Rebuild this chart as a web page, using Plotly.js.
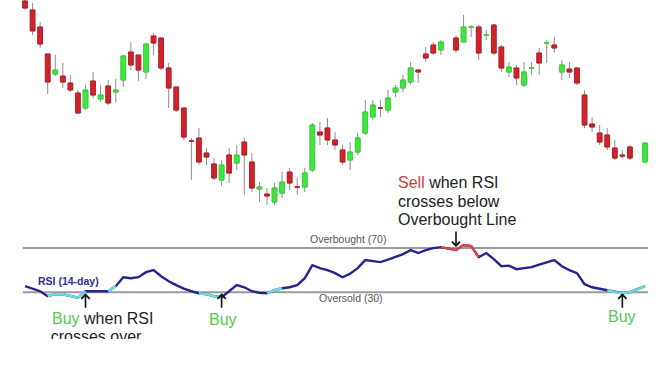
<!DOCTYPE html>
<html><head><meta charset="utf-8">
<script src="https://cdn.plot.ly/plotly-3.0.1.min.js"></script>
<style>html,body{margin:0;padding:0;background:#fff;overflow:hidden}#chart{width:660px;height:372px}</style>
</head><body><div id="chart"></div>
<script>
// ---- data ----
const day = [0,1,2,3,4,5,6,7,8,9,10,11,12,13,14,15,16,17,18,19,20,21,22,23,24,25,26,27,28,29,30,31,32,33,34,35,36,37,38,39,40,41,42,43,44,45,46,47,48,49,50,51,52,53,54,55,57,58,59,60,61,62,63,64,65,66,67,68,69,70,71,72,73,74,75,76,77,78,79,80,82];
const openP  = [219,210,193,166,146,144,137,127,112,139,121,134,128,140,168,165,148,184,182,152,133,112,79,82,67,56,40,65,57,78,58,31,26,18,27,48,33,33,50,88,92,80,70,60,68,87,103,112,110,128,132,138,150,166,175,170,182,178,193,193,185,195,173,148,152,135,152,167,177,175,148,151,152,125,96,87,85,72,65,73,58];
const highP  = [225,217,198,166,165,157,145,130,135,148,135,140,141,165,178,165,176,187,182,157,133,112,82,92,72,62,60,72,75,82,67,38,32,37,48,52,42,52,97,98,102,88,75,78,87,120,120,120,130,135,145,158,150,173,178,180,185,205,195,195,190,196,175,158,155,158,158,172,180,183,160,158,153,130,103,95,92,80,70,75,77];
const lowP   = [210,185,172,126,144,132,128,106,110,122,118,115,118,133,150,139,141,165,150,112,108,80,40,55,55,40,34,37,50,25,28,18,15,15,22,30,25,28,48,75,75,70,55,50,65,85,100,103,107,123,128,135,137,158,165,165,167,178,183,160,180,165,148,143,135,133,145,145,157,167,140,142,135,92,88,75,70,60,62,60,58];
const closeP = [212,189,176,138,150,138,130,107,130,125,125,117,130,164,155,150,176,177,152,132,110,83,79,58,63,42,55,47,65,65,32,33,24,32,38,37,33,47,95,85,80,75,58,68,82,108,115,112,122,132,140,152,148,162,167,178,170,193,193,167,185,167,152,153,142,148,152,157,177,172,155,148,137,95,93,78,73,62,64,62,77];

const rsi = [35.5,33.3,30.9,26.4,28.2,28.2,26.4,25.0,30.9,30.9,
             30.5,30.9,35.5,43.6,42.7,43.6,48.2,50.0,44.5,40.0,
             36.4,33.2,30.9,29.1,28.2,26.4,25.5,30.9,36.4,34.5,
             30.9,29.5,29.1,31.8,33.6,34.5,36.4,42.7,54.5,51.8,
             50.0,47.3,43.6,46.8,51.8,59.1,58.2,57.3,59.5,61.8,
             64.5,68.2,65.5,68.2,70.0,70.9,69.5,68.2,72.7,71.8,
             61.8,65.5,60.0,53.6,54.1,50.9,51.8,52.7,55.0,57.3,
             59.1,53.6,50.0,47.3,37.3,34.5,33.2,31.8,30.0,29.1,
             30.0,32.7,35.5];
const buyZones = [[3,8],[11,12],[23,26],[32,34],[77,82]];
const sellZones = [[55,60]];
const buyDays = [8,26,79];
const sellDays = [57];
const levels = [70,30];
const levelNames = ['Overbought (70)','Oversold (30)'];

// ---- build ----
const FONT = 'Arial, "Liberation Sans", sans-serif';
const rsiDay = rsi.map((v,i)=>i);
function zoneTrace(zones){
  const xs=[], ys=[];
  zones.forEach(z=>{ for(let i=z[0];i<=z[1];i++){xs.push(rsiDay[i]); ys.push(rsi[i]);} xs.push(null); ys.push(null); });
  return {xs, ys};
}
const bodyHigh = openP.map((o,i)=>Math.max(o,closeP[i]));
const bodyLow  = openP.map((o,i)=>Math.min(o,closeP[i]));
const cz = zoneTrace(buyZones), sz = zoneTrace(sellZones);

const traces = [
  {type:'candlestick', x:day, open:openP, high:highP, low:lowP, close:closeP,
   increasing:{line:{color:'#8c8c8c',width:1},fillcolor:'rgba(0,0,0,0)'},
   decreasing:{line:{color:'#8c8c8c',width:1},fillcolor:'rgba(0,0,0,0)'},
   whiskerwidth:0, hoverinfo:'skip'},
  {type:'candlestick', x:day, open:openP, high:bodyHigh, low:bodyLow, close:closeP,
   increasing:{line:{color:'#35d835',width:1},fillcolor:'#3fe63f'},
   decreasing:{line:{color:'#bd1c24',width:1},fillcolor:'#cf242c'},
   whiskerwidth:0, hoverinfo:'skip'},
  {type:'scatter', mode:'lines', x:rsiDay, y:rsi, xaxis:'x', yaxis:'y2',
   line:{color:'#24248c',width:2.4}, hoverinfo:'skip'},
  {type:'scatter', mode:'lines', x:cz.xs, y:cz.ys, xaxis:'x', yaxis:'y2',
   line:{color:'#6cdde3',width:2.4}, connectgaps:false, hoverinfo:'skip'},
  {type:'scatter', mode:'lines', x:sz.xs, y:sz.ys, xaxis:'x', yaxis:'y2',
   line:{color:'#e04646',width:2.4}, connectgaps:false, hoverinfo:'skip'},
  {type:'scatter', mode:'text', x:[3.4], y:[-11.6], text:['crosses over'], textposition:'middle right',
   textfont:{family:FONT,size:16,color:'#222'}, xaxis:'x', yaxis:'y2', cliponaxis:true, hoverinfo:'skip'}
];

function pa(px,py){return {x:px/660, y:1-py/372};}
function label(text,px,py,opts){
  const p=pa(px,py);
  return Object.assign({xref:'paper',yref:'paper',x:p.x,y:p.y,text:text,showarrow:false,
    xanchor:'left',yanchor:'middle',font:{family:FONT,size:16,color:'#222'}},opts||{});
}
const GREEN='#55c855', RED='#d9363e';
const annotations = [
  label('<span style="color:'+RED+'">Sell</span> when RSI',396,182),
  label('crosses below',396,201),
  label('Overbought Line',396,219),
  label('<span style="color:'+GREEN+'">Buy</span> when RSI',50,318),
  label('Buy',223,319,{xanchor:'center',font:{family:FONT,size:16,color:GREEN}}),
  label('Buy',622,316,{xanchor:'center',font:{family:FONT,size:16,color:GREEN}}),
  label(levelNames[0],348,239,{xanchor:'center',font:{family:FONT,size:10.5,color:'#555'}}),
  label(levelNames[1],351,298,{xanchor:'center',font:{family:FONT,size:10.5,color:'#555'}}),
  label('<b>RSI (14-day)</b>',36,281,{font:{family:FONT,size:10.5,color:'#2e2e8e'}})
];
buyDays.forEach(d=>annotations.push({xref:'x',yref:'y2',x:d,y:levels[1]-1,text:'',showarrow:true,
  ax:0,ay:16,arrowhead:4,arrowsize:1,arrowwidth:1.6,arrowcolor:'#111',standoff:0}));
sellDays.forEach(d=>annotations.push({xref:'x',yref:'y2',x:d,y:levels[0]+1,text:'',showarrow:true,
  ax:0,ay:-17,arrowhead:4,arrowsize:1,arrowwidth:1.6,arrowcolor:'#111',standoff:0}));

const shapes = levels.map(l=>({type:'line',xref:'x',yref:'y2',x0:-0.3,x1:82.4,y0:l,y1:l,
  line:{color:'#9a9a9a',width:2},layer:'below'}));

const layout = {
  width:660, height:372, margin:{l:0,r:0,t:0,b:0},
  paper_bgcolor:'#fff', plot_bgcolor:'#fff', showlegend:false,
  boxgap:0.12, boxmode:'overlay',
  xaxis:{range:[-3.31,83.98], visible:false, rangeslider:{visible:false}, fixedrange:true},
  yaxis:{domain:[0.43,1], range:[8,220], visible:false},
  yaxis2:{domain:[0.089,0.42], range:[-12.3,99.31], visible:false},
  annotations:annotations, shapes:shapes
};
Plotly.newPlot('chart', traces, layout, {staticPlot:true, displayModeBar:false});
</script></body></html>
